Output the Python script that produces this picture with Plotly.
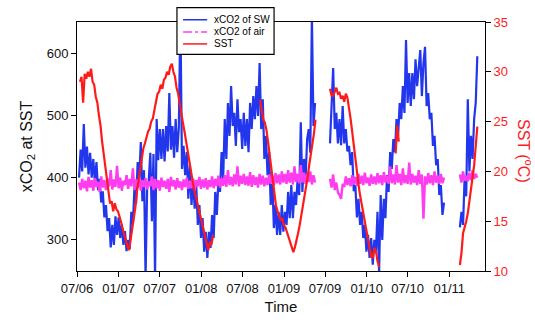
import plotly.graph_objects as go
import pandas as pd

# ---------------- data (7-day sampling) ----------------
sw_starts = ["2006-07-10", "2009-07-23", "2011-02-17"]
sw_seg1 = [400, 445, 410, 486, 416, 450, 405, 440, 400, 430,
           392, 425, 380, 398, 360, 378, 336, 356, 314, 335,
           288, 324, 292, 338, 308, 336, 303, 325, 292, 314,
           282, 300, 285, 345, 326, 385, 358, 425, 398, 457,
           362, 412, 240, 385, 395, 440, 330, 438, 240, 494,
           428, 478, 430, 478, 426, 483, 442, 536, 445, 483,
           432, 494, 441, 480, 665, 414, 451, 404, 441, 366,
           420, 356, 398, 350, 388, 324, 356, 303, 335, 281,
           313, 271, 313, 287, 340, 303, 377, 340, 398, 377,
           441, 398, 494, 430, 520, 467, 547, 483, 504, 451,
           526, 473, 494, 446, 504, 451, 494, 441, 520, 478,
           531, 494, 547, 499, 584, 478, 526, 430, 467, 404,
           441, 356, 398, 319, 356, 308, 345, 308, 356, 313,
           345, 324, 377, 335, 388, 335, 377, 356, 398, 372,
           489, 377, 430, 398, 462, 478, 440, 660, 483, 520]
sw_seg2 = [455, 515, 576, 478, 504, 455, 494, 452, 515, 455,
           478, 442, 451, 420, 441, 378, 388, 336, 366, 324,
           345, 303, 324, 281, 308, 271, 303, 260, 300, 281,
           345, 248, 372, 300, 366, 335, 404, 377, 441, 414,
           462, 441, 494, 467, 520, 494, 547, 504, 621, 520,
           568, 515, 568, 526, 590, 547, 573, 605, 531, 584,
           610, 515, 536, 494, 504, 451, 467, 420, 430, 372,
           388, 340, 360]
sw_seg3 = [320, 345, 324, 400, 370, 526, 410, 467, 430, 494, 520, 595]

air_starts = sw_starts
air_seg1 = [392, 380, 398, 383, 395, 378, 401, 384, 396, 379,
            399, 385, 393, 377, 402, 384, 396, 380, 398, 386,
            412, 381, 397, 385, 419, 383, 400, 379, 395, 388,
            404, 382, 398, 386, 415, 380, 397, 384, 401, 379,
            396, 385, 399, 381, 394, 386, 402, 380, 398, 383,
            396, 379, 400, 385, 395, 382, 398, 377, 401, 386,
            396, 381, 399, 384, 394, 380, 397, 385, 400, 382,
            395, 383, 398, 379, 396, 386, 401, 382, 397, 384,
            399, 381, 396, 385, 402, 383, 398, 386, 403, 384,
            399, 387, 404, 385, 412, 388, 401, 386, 405, 389,
            418, 386, 403, 390, 406, 388, 402, 387, 409, 385,
            404, 388, 401, 384, 406, 389, 403, 386, 400, 388,
            405, 390, 403, 387, 407, 391, 405, 389, 410, 392,
            406, 390, 412, 392, 408, 389, 418, 393, 406, 391,
            420, 392, 408, 390, 406, 393, 410, 389, 404, 392]
air_seg2 = [398, 384, 405, 380, 392, 376, 372, 366, 390, 385,
            402, 388, 399, 386, 404, 389, 401, 387, 406, 390,
            403, 388, 408, 391, 400, 387, 405, 390, 402, 389,
            407, 391, 404, 388, 409, 392, 403, 390, 418, 391,
            405, 389, 420, 392, 406, 388, 415, 391, 404, 390,
            424, 389, 406, 392, 403, 388, 412, 390, 405, 334,
            402, 389, 407, 391, 404, 388, 410, 392, 403, 390,
            406, 391, 400]
air_seg3 = [405, 392, 410, 395, 403, 394, 408, 396, 412, 398, 406, 400]

sst_starts = ["2006-07-14", "2008-09-17", "2009-07-23", "2010-05-09", "2011-02-17"]
sst_seg1 = [29.0, 29.5, 26.9, 29.8, 29.3, 30.0, 29.5, 30.3, 29.0, 28.7,
            27.5, 26.9, 25.6, 24.6, 23.0, 21.8, 20.6, 19.3, 18.2, 16.8,
            17.0, 16.0, 16.8, 16.2, 16.0, 15.5, 14.9, 14.2, 13.6, 13.0,
            12.5, 12.1, 13.2, 14.0, 15.5, 16.4, 18.0, 19.2, 20.2, 21.2,
            22.3, 22.8, 23.5, 24.0, 24.3, 25.0, 25.3, 26.3, 27.0, 27.8,
            28.0, 28.7, 28.3, 29.2, 29.4, 30.0, 29.7, 30.5, 30.8, 30.0,
            29.5, 28.4, 27.8, 26.8, 25.6, 24.9, 24.0, 23.0, 21.9, 20.8,
            19.8, 19.0, 18.2, 17.6, 16.9, 16.2, 15.4, 14.8, 14.0, 13.3,
            12.8, 12.1, 12.9, 12.6, 13.6]
sst_seg2 = [27.2, 26.0, 25.2, 24.9, 24.2, 23.0, 21.6, 20.5, 19.0, 18.0,
            16.6, 16.0, 15.6, 15.1, 15.3, 14.6, 14.4, 13.9, 13.3, 12.7,
            12.2, 11.9, 12.4, 13.0, 13.8, 14.6, 15.5, 16.4, 17.3, 18.3,
            19.4, 20.6, 21.6, 22.8, 23.8, 25.2]
sst_seg3 = [28.3, 27.6, 27.6, 28.0, 28.4, 27.8, 27.9, 27.3, 27.6, 27.0,
            27.8, 27.4, 26.5, 25.3, 24.0, 22.5, 21.0, 20.0, 18.7, 17.6,
            16.7, 15.7, 14.7, 13.8, 12.8, 12.3, 11.5, 11.3, 12.3, 12.0,
            11.0, 10.4]
sst_seg4 = [21.8, 24.6, 23.0]
sst_seg5 = [10.6, 11.8, 13.8, 14.3, 15.0, 15.8, 17.0, 17.8, 19.3, 20.6, 22.5, 24.5]

tick_dates = ["2006-07-01", "2007-01-01", "2007-07-01", "2008-01-01", "2008-07-01",
              "2009-01-01", "2009-07-01", "2010-01-01", "2010-07-01", "2011-01-01"]
tick_labels = ["07/06", "01/07", "07/07", "01/08", "07/08",
               "01/09", "07/09", "01/10", "07/10", "01/11"]
co2_ticks = [300, 400, 500, 600]
sst_ticks = [10, 15, 20, 25, 30, 35]

series_names = ["xCO2 of SW", "xCO2 of air", "SST"]

BLUE = "#2236ee"
MAGENTA = "#ff3cf0"
RED = "#ff1a1a"
FONT = "Liberation Sans, Arial, sans-serif"


def build(starts, segs):
    xs, ys = [], []
    for s, v in zip(starts, segs):
        d = pd.date_range(s, periods=len(v), freq="7D")
        xs += list(d)
        ys += list(v)
        xs.append(d[-1] + pd.Timedelta(days=1))
        ys.append(None)
    return xs, ys


sw_x, sw_y = build(sw_starts, [sw_seg1, sw_seg2, sw_seg3])
air_x, air_y = build(air_starts, [air_seg1, air_seg2, air_seg3])
sst_x, sst_y = build(sst_starts, [sst_seg1, sst_seg2, sst_seg3, sst_seg4, sst_seg5])

fig = go.Figure()
fig.add_trace(go.Scatter(x=sw_x, y=sw_y, mode="lines", name=series_names[0],
                         line=dict(color=BLUE, width=2.2), showlegend=False))
fig.add_trace(go.Scatter(x=air_x, y=air_y, mode="lines", name=series_names[1],
                         line=dict(color=MAGENTA, width=2.4), showlegend=False))
fig.add_trace(go.Scatter(x=sst_x, y=sst_y, mode="lines", name=series_names[2], yaxis="y2",
                         line=dict(color=RED, width=2.2), showlegend=False))

# legend box drawn as a framed key
lx0, lx1 = 0.245, 0.483
ly0, ly1 = 0.870, 1.058
rows = [1.009, 0.960, 0.912]
colors = [BLUE, MAGENTA, RED]
dashes = ["solid", "dashdot", "solid"]
shapes = [dict(type="rect", xref="paper", yref="paper", x0=lx0, x1=lx1, y0=ly0, y1=ly1,
               line=dict(color="black", width=1.2), fillcolor="white", layer="above")]
annotations = []
for r, c, d, n in zip(rows, colors, dashes, series_names):
    shapes.append(dict(type="line", xref="paper", yref="paper", x0=0.260, x1=0.319, y0=r, y1=r,
                       line=dict(color=c, width=1.5, dash=d), layer="above"))
    annotations.append(dict(x=0.331, y=r, xref="paper", yref="paper", text=n, showarrow=False,
                            xanchor="left", yanchor="middle", font=dict(size=10, color="black", family=FONT)))

annotations.append(dict(x=1.098, y=0.482, xref="paper", yref="paper", text="SST (<sup>o</sup>C)",
                        showarrow=False, textangle=90, xanchor="center", yanchor="middle",
                        font=dict(size=16, color=RED, family=FONT)))

fig.update_layout(
    width=535, height=324,
    margin=dict(l=77, r=50, t=22, b=51),
    paper_bgcolor="white", plot_bgcolor="white",
    font=dict(family=FONT, color="#111111"),
    shapes=shapes, annotations=annotations,
    xaxis=dict(type="date", range=["2006-07-01", "2011-06-08"],
               tickvals=tick_dates, ticktext=tick_labels,
               ticks="outside", ticklen=5, tickcolor="black",
               showline=True, linecolor="black", linewidth=1, mirror=True,
               showgrid=False, zeroline=False,
               tickfont=dict(size=13, family=FONT, color="#111111"),
               title=dict(text="Time", font=dict(size=15, family=FONT), standoff=6)),
    yaxis=dict(range=[250, 650], tickvals=co2_ticks,
               ticks="outside", ticklen=5, tickcolor="black",
               showline=True, linecolor="black", linewidth=1,
               showgrid=False, zeroline=False,
               tickfont=dict(size=13, family=FONT, color="#111111"),
               title=dict(text="xCO<sub>2</sub> at SST", font=dict(size=16, family=FONT), standoff=10)),
    yaxis2=dict(range=[10, 35], tickvals=sst_ticks, overlaying="y", side="right",
                ticks="outside", ticklen=5, tickcolor="black",
                showline=True, linecolor="black", linewidth=1,
                showgrid=False, zeroline=False,
                tickfont=dict(size=13, family=FONT, color=RED)),
)

fig.write_html("out.html")
